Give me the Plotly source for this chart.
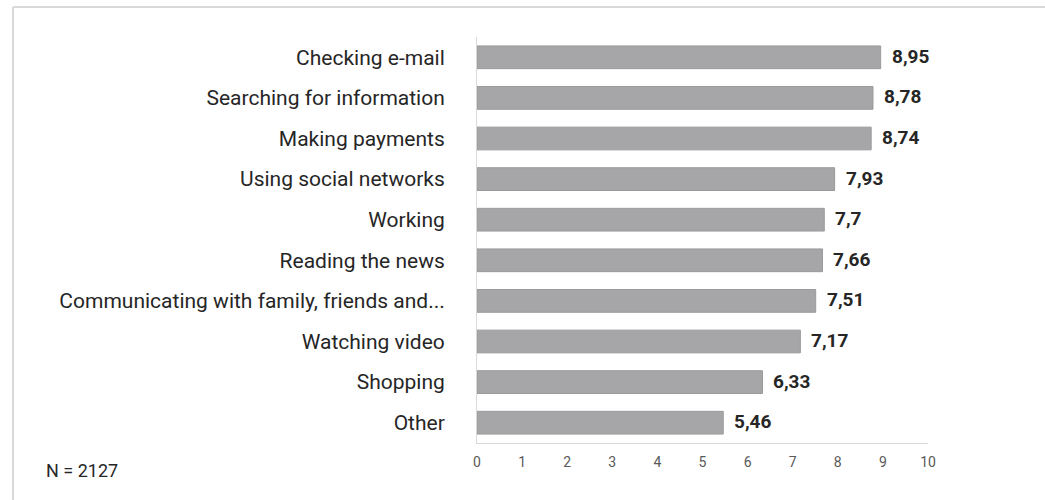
import plotly.graph_objects as go

categories = ["Checking e-mail", "Searching for information", "Making payments",
              "Using social networks", "Working", "Reading the news",
              "Communicating with family, friends and...", "Watching video",
              "Shopping", "Other"]
values = [8.95, 8.78, 8.74, 7.93, 7.7, 7.66, 7.51, 7.17, 6.33, 5.46]
x_ticks = list(range(0, 11))
note = "N = 2127"

W, H = 1045, 500
L, R, T, B = 477, 117, 37, 57
pw, ph = W - L - R, H - T - B

def px_to_paper_x(px):
    return (px - L) / pw

def px_to_paper_y(py):
    return (H - B - py) / ph

fig = go.Figure()
fig.add_trace(go.Bar(
    x=values, y=categories, orientation="h",
    marker=dict(color="#a6a6a9", line=dict(color="#9a9a9d", width=1)),
    hoverinfo="skip",
))

for c, v in zip(categories, values):
    fig.add_annotation(x=v, y=c, xref="x", yref="y", text="<b>" + str(v).replace(".", ",") + "</b>",
                       showarrow=False, xanchor="left", xshift=9, yshift=1,
                       font=dict(family="Roboto", size=19, color="#262626"))

fig.add_annotation(x=px_to_paper_x(44), y=px_to_paper_y(471), xref="paper", yref="paper",
                   text=note, showarrow=False, xanchor="left", yanchor="middle",
                   font=dict(family="Roboto", size=18, color="#262626"))

# outer frame (top and left edges visible)
fig.add_shape(type="line", xref="paper", yref="paper",
              x0=px_to_paper_x(13), x1=px_to_paper_x(1050), y0=px_to_paper_y(7), y1=px_to_paper_y(7),
              line=dict(color="#d9d9d9", width=2))
fig.add_shape(type="line", xref="paper", yref="paper",
              x0=px_to_paper_x(13), x1=px_to_paper_x(13), y0=px_to_paper_y(7), y1=px_to_paper_y(505),
              line=dict(color="#d9d9d9", width=2))

fig.update_layout(
    width=W, height=H,
    margin=dict(l=L, r=R, t=T, b=B),
    paper_bgcolor="white", plot_bgcolor="white",
    bargap=0.44, showlegend=False,
    xaxis=dict(range=[0, 10], tickvals=x_ticks, showgrid=False, zeroline=False,
               showline=True, linecolor="#d9d9d9", linewidth=1,
               tickfont=dict(family="Roboto", size=14, color="#595959"),
               ticks="", ticklabelstandoff=6),
    yaxis=dict(autorange="reversed", showgrid=False, zeroline=False,
               showline=True, linecolor="#d9d9d9", linewidth=1,
               tickfont=dict(family="Roboto", size=21, color="#262626"),
               ticks="", ticklabelstandoff=27),
)

fig.write_html("out.html")
